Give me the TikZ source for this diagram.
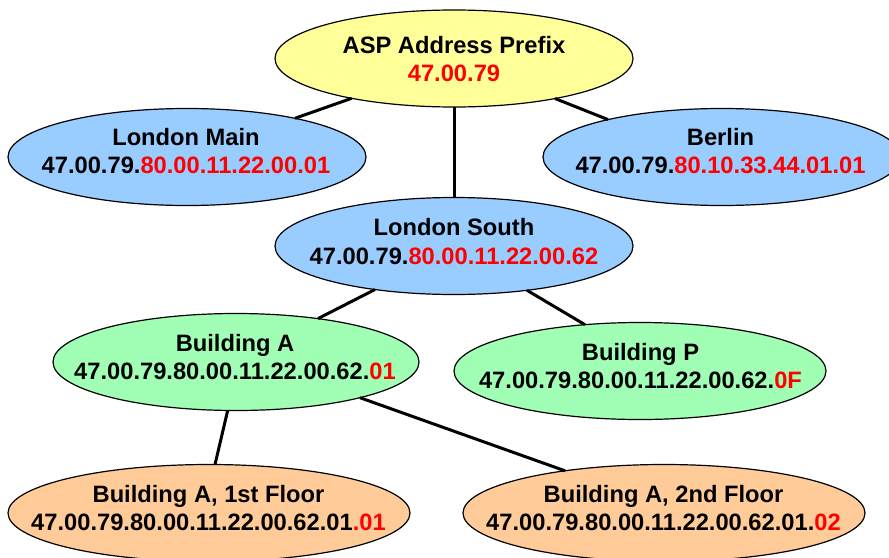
\documentclass[tikz,border=0pt]{standalone}
\usepackage{fontspec}
\setmainfont{Liberation Sans}
\usetikzlibrary{shapes.geometric}
\definecolor{yel}{HTML}{FFFF99}
\definecolor{blu}{HTML}{99CCFF}
\definecolor{grn}{HTML}{A0FFB4}
\definecolor{org}{HTML}{FFCC99}
\definecolor{rd}{HTML}{FF0000}
\tikzset{
 el/.style={ellipse,draw=black,line width=1.2pt,minimum width=#1,minimum height=97pt,inner sep=0pt,outer sep=0pt},
 txt/.style={align=center,inner sep=0pt,font=\fontsize{23.7pt}{28.3pt}\selectfont\bfseries},
 ln/.style={line width=3pt,black},
}
\newcommand{\rr}[1]{\textcolor{rd}{#1}}
\begin{document}
\begin{tikzpicture}[x=1pt,y=-1pt]
\useasboundingbox (0,0) rectangle (889,557);
\node[el=358pt,fill=yel] (asp) at (454,58.5) {};
\node[el=358pt,fill=blu] (lm) at (187,157) {};
\node[el=358pt,fill=blu] (be) at (722,157) {};
\node[el=358pt,fill=blu] (ls) at (454,246) {};
\node[el=366pt,fill=grn] (ba) at (236,362) {};
\node[el=372pt,fill=grn] (bp) at (640,371) {};
\node[el=402pt,fill=org] (f1) at (209,513) {};
\node[el=402pt,fill=org] (f2) at (664,513) {};
\node[txt] (tasp) at (454,59) {ASP Address Prefix\\\rr{47.00.79}};
\node[txt] (tlm) at (186,151) {London Main\\47.00.79.\rr{80.00.11.22.00.01}};
\node[txt] (tbe) at (720.5,151) {Berlin\\47.00.79.\rr{80.10.33.44.01.01}};
\node[txt] (tls) at (454,241.5) {London South\\47.00.79.\rr{80.00.11.22.00.62}};
\node[txt] (tba) at (235,357) {Building A\\47.00.79.80.00.11.22.00.62.\rr{01}};
\node[txt] (tbp) at (640.5,366) {Building P\\47.00.79.80.00.11.22.00.62.\rr{0F}};
\node[txt] (tf1) at (208.5,508) {Building A, 1st Floor\\47.00.79.80.00.11.22.00.62.01\rr{.01}};
\node[txt] (tf2) at (663.5,508) {Building A, 2nd Floor\\47.00.79.80.00.11.22.00.62.01.\rr{02}};
\draw[ln] ([xshift=-102.3pt,yshift=-39.8pt]asp.center)--([xshift=108pt,yshift=38.7pt]lm.center);
\draw[ln] ([xshift=101pt,yshift=-40pt]asp.center)--([xshift=-114pt,yshift=37.4pt]be.center);
\draw[ln] (asp.south)--(ls.north);
\draw[ln] ([xshift=-79pt,yshift=-43.5pt]ls.center)--([xshift=82pt,yshift=43.4pt]ba.center);
\draw[ln] ([xshift=73pt,yshift=-44.3pt]ls.center)--([xshift=-55pt,yshift=46.3pt]bp.center);
\draw[ln] ([xshift=-8.3pt,yshift=-48.4pt]ba.center)--([xshift=6pt,yshift=48.5pt]f1.center);
\draw[ln] ([xshift=124pt,yshift=-35.7pt]ba.center)--([xshift=-99pt,yshift=42.2pt]f2.center);
\end{tikzpicture}
\end{document}
